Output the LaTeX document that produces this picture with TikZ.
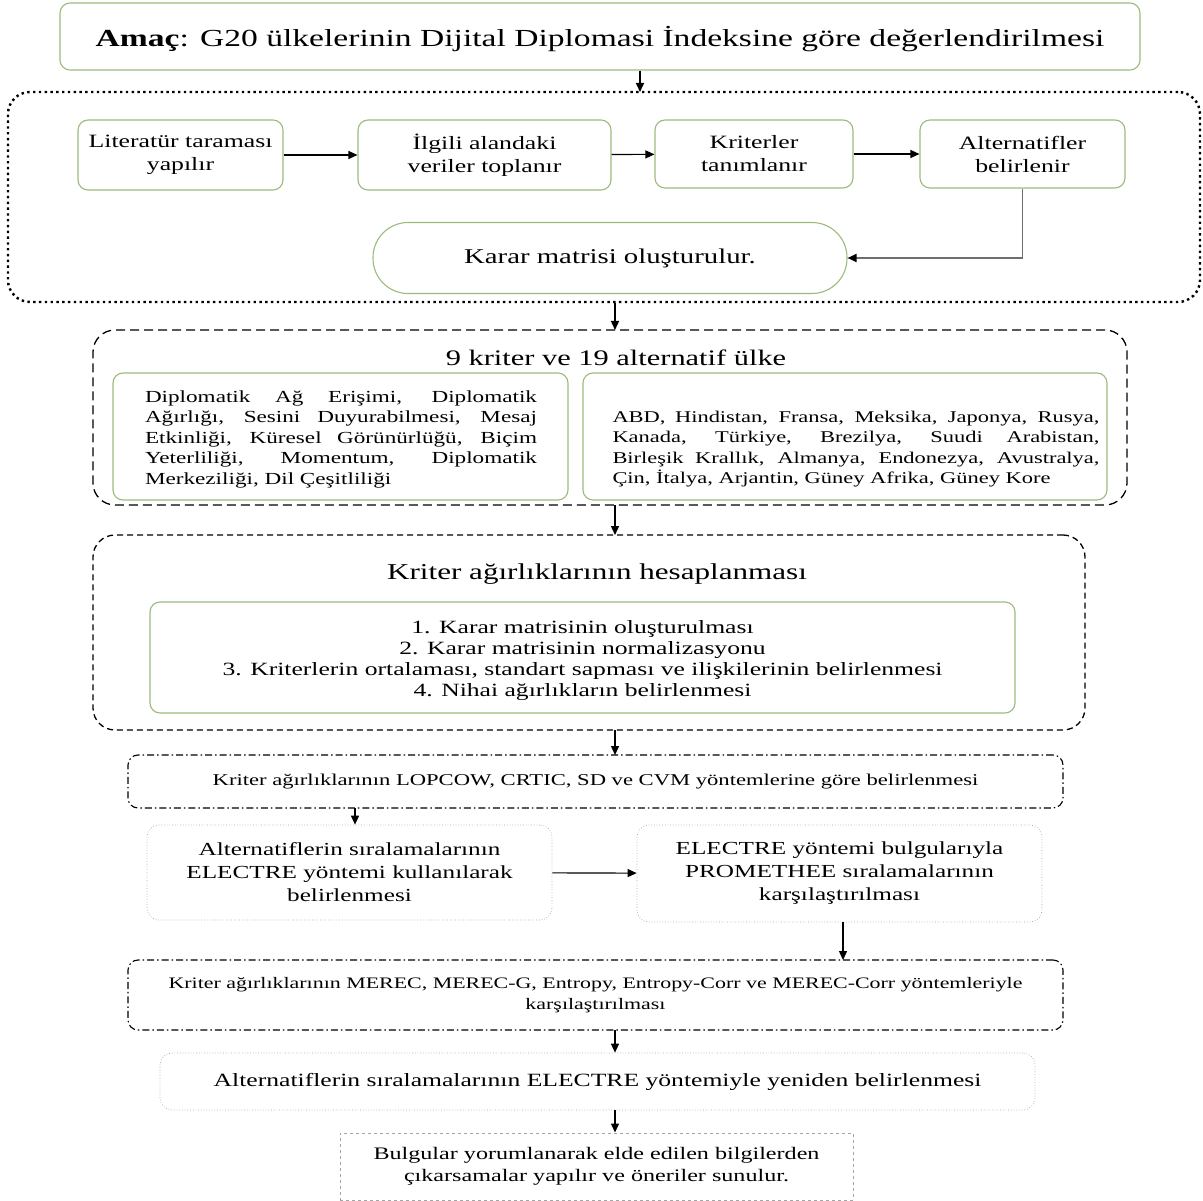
\documentclass[tikz,border=0pt]{standalone}
\usepackage{fontspec}
\setmainfont{Liberation Serif}[FakeStretch=1.37]
\usetikzlibrary{arrows.meta,positioning}
\definecolor{gborder}{RGB}{155,187,125}
\definecolor{lgray}{RGB}{165,165,165}
\definecolor{cgray}{RGB}{110,110,110}
\tikzset{
  gbox/.style={draw=gborder, line width=1.1pt, rounded corners=10pt, align=center, inner sep=0pt},
  pbox/.style={draw=lgray, line width=0.7pt, dotted, rounded corners=12pt, align=center, inner sep=0pt},
  dbox/.style={draw=black, line width=1.1pt, dash pattern=on 7pt off 3pt on 1.5pt off 3pt, rounded corners=10pt, align=center, inner sep=0pt},
  frame/.style={draw=black, rounded corners=22pt},
  arr/.style={-{Triangle[length=9pt,width=8pt]}, line width=1.1pt, black},
  varr/.style={arr, line width=1.4pt},
  lbl/.style={inner sep=0pt, align=center},
}
\begin{document}
\begin{tikzpicture}[x=1pt,y=-1pt]
\useasboundingbox (0,0) rectangle (1203,1201);
% title
\node[gbox, minimum width=1080pt, minimum height=67pt] (title) at (600,36.5) {};
\node[lbl, font=\fontsize{24.5}{30}\selectfont] (titlet) at (600,39.5)
  {\textbf{Amaç}: G20 ülkelerinin Dijital Diplomasi İndeksine göre değerlendirilmesi};
% dotted frame
\node[frame, dash pattern=on 2.4pt off 3.4pt, line width=2.4pt, minimum width=1192pt, minimum height=210pt] (f1) at (604,197) {};
\node[gbox, minimum width=205pt, minimum height=70pt, font=\fontsize{18.8}{23}\selectfont] (b1) at (180.5,155) {Literatür taraması\\yapılır};
\node[gbox, minimum width=253pt, minimum height=70pt, font=\fontsize{18.8}{23}\selectfont] (b2) at (484.5,155) {İlgili alandaki\\veriler toplanır};
\node[gbox, minimum width=198pt, minimum height=68pt, font=\fontsize{18.8}{23}\selectfont] (b3) at (754,154) {Kriterler\\tanımlanır};
\node[gbox, minimum width=205pt, minimum height=68pt, font=\fontsize{18.8}{23}\selectfont] (b4) at (1022.5,154) {Alternatifler\\belirlenir};
\node[gbox, rounded corners=35pt, minimum width=474pt, minimum height=71pt, font=\fontsize{21}{25}\selectfont] (km) at (610,258) {Karar matrisi oluşturulur.};
\draw[arr] (b1) -- (b2);
\draw[arr] (b2) -- (b3);
\draw[arr] (b3) -- (b4);
\draw[-{Triangle[length=9pt,width=8pt,color=black]}, draw=cgray, line width=1.8pt] (b4.south) |- (km.east);
% second frame
\node[frame, dash pattern=on 9pt off 5pt, line width=1.3pt, minimum width=1034pt, minimum height=175pt] (f2) at (610,417.5) {};
\node[lbl, font=\fontsize{22.2}{26}\selectfont] (t2) at (616,358) {9 kriter ve 19 alternatif ülke};
\node[gbox, minimum width=455pt, minimum height=127pt] (kr) at (340.5,436.5) {};
\node[gbox, minimum width=524pt, minimum height=127pt] (al) at (845,436.5) {};
\node[lbl, font=\fontsize{16.9}{20.5}\selectfont, align=left] (krt) at (341,439) {%
\makebox[392pt][s]{Diplomatik Ağ Erişimi, Diplomatik}\\
\makebox[392pt][s]{Ağırlığı, Sesini Duyurabilmesi, Mesaj}\\
\makebox[392pt][s]{Etkinliği, Küresel Görünürlüğü, Biçim}\\
\makebox[392pt][s]{Yeterliliği, Momentum, Diplomatik}\\
\makebox[392pt][l]{Merkeziliği, Dil Çeşitliliği}};
\node[lbl, font=\fontsize{16.4}{20.5}\selectfont, align=left] (alt) at (856,449) {%
\makebox[487pt][s]{ABD, Hindistan, Fransa, Meksika, Japonya, Rusya,}\\
\makebox[487pt][s]{Kanada, Türkiye, Brezilya, Suudi Arabistan,}\\
\makebox[487pt][s]{Birleşik Krallık, Almanya, Endonezya, Avustralya,}\\
\makebox[487pt][l]{Çin, İtalya, Arjantin, Güney Afrika, Güney Kore}};
% third frame
\node[frame, dash pattern=on 6pt off 4pt, line width=1.3pt, minimum width=992pt, minimum height=195pt] (f3) at (589,632.5) {};
\node[lbl, font=\fontsize{22.7}{26}\selectfont] (t3) at (597,574) {Kriter ağırlıklarının hesaplanması};
\node[gbox, minimum width=865pt, minimum height=111pt] (steps) at (582.5,657.5) {};
\node[lbl, font=\fontsize{18.7}{20.8}\selectfont] (stepst) at (582.5,660.5)
  {1. Karar matrisinin oluşturulması\\2. Karar matrisinin normalizasyonu\\3. Kriterlerin ortalaması, standart sapması ve ilişkilerinin belirlenmesi\\4. Nihai ağırlıkların belirlenmesi};
% dash-dot box 1
\node[dbox, minimum width=935pt, minimum height=53pt, font=\fontsize{16.5}{20}\selectfont] (lop) at (595.5,781.5)
  {Kriter ağırlıklarının LOPCOW, CRTIC, SD ve CVM yöntemlerine göre belirlenmesi};
\node[pbox, minimum width=405pt, minimum height=95pt, font=\fontsize{18.4}{23}\selectfont] (el) at (349.5,872.5)
  {Alternatiflerin sıralamalarının\\ELECTRE yöntemi kullanılarak\\belirlenmesi};
\node[pbox, minimum width=405pt, minimum height=97pt, font=\fontsize{18.4}{23}\selectfont] (pr) at (839.5,873.5)
  {ELECTRE yöntemi bulgularıyla\\PROMETHEE sıralamalarının\\karşılaştırılması};
\draw[arr] (el) -- (pr);
\node[dbox, minimum width=935pt, minimum height=70pt, font=\fontsize{16}{21}\selectfont] (mer) at (595.5,995)
  {Kriter ağırlıklarının MEREC, MEREC-G, Entropy, Entropy-Corr ve MEREC-Corr yöntemleriyle\\karşılaştırılması};
\node[pbox, minimum width=875pt, minimum height=57pt, font=\fontsize{18.7}{23}\selectfont] (re) at (597.5,1081.5)
  {Alternatiflerin sıralamalarının ELECTRE yöntemiyle yeniden belirlenmesi};
\node[draw=lgray, line width=1pt, dashed, align=center, minimum width=513pt, minimum height=67pt, inner sep=0pt, font=\fontsize{17.6}{22}\selectfont] (bul) at (596.5,1166.5)
  {Bulgular yorumlanarak elde edilen bilgilerden\\çıkarsamalar yapılır ve öneriler sunulur.};
% vertical arrows
\draw[varr] (title.south -| 640,0) -- (640,92);
\draw[varr] (615,303) -- (615,330);
\draw[varr] (615,505) -- (615,535);
\draw[varr] (615,730) -- (615,755);
\draw[varr] (355,808) -- (el.north -| 355,0);
\draw[varr] (pr.south -| 843,0) -- (843,960);
\draw[varr] (615,1030) -- (re.north -| 615,0);
\draw[varr] (re.south -| 615,0) -- (bul.north -| 615,0);
\end{tikzpicture}
\end{document}
